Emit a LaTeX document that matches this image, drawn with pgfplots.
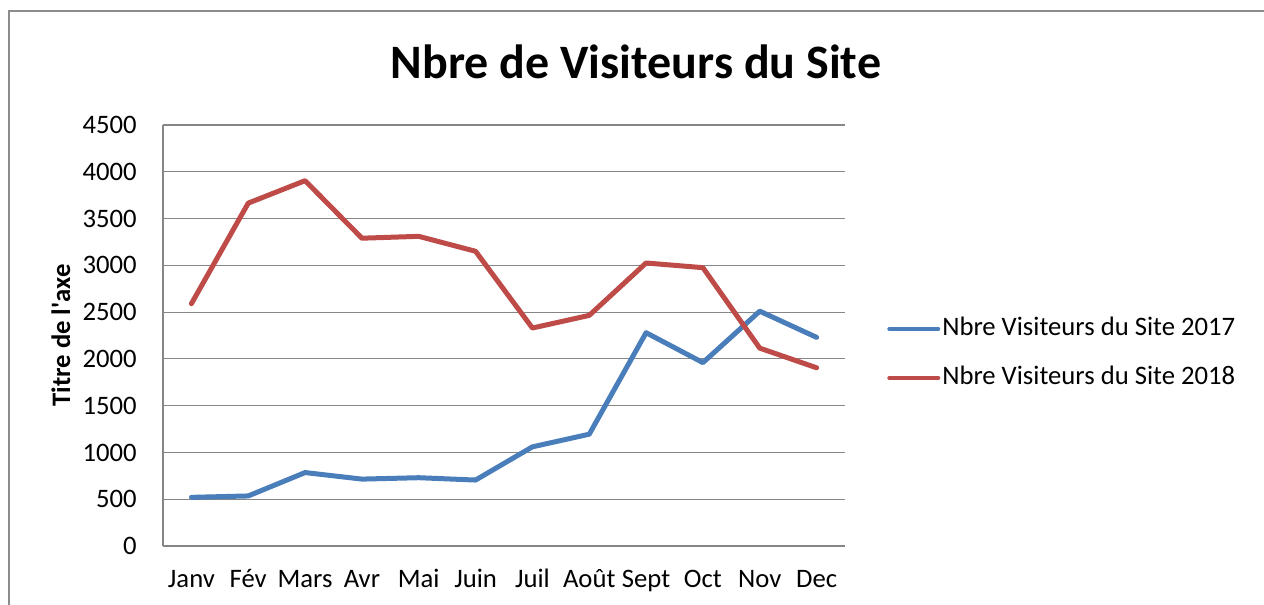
\documentclass[border=0pt]{standalone}
\usepackage{fontspec}
\setmainfont{Carlito}
\usepackage{pgfplots}
\pgfplotsset{compat=1.18}
\definecolor{blue17}{HTML}{4A7EBB}
\definecolor{red18}{HTML}{BE4B48}
\definecolor{gridgray}{HTML}{868686}
\definecolor{framegray}{HTML}{8C8C8C}
\begin{document}
\begin{tikzpicture}
\useasboundingbox (-122.25pt,-43.5pt) rectangle (825.75pt,409.5pt);
\fill[white] (-122.25pt,-43.5pt) rectangle (825.75pt,409.5pt);
\draw[framegray, line width=1.5pt] (-115.5pt,-50pt) -- (-115.5pt,401.25pt) -- (830pt,401.25pt);
\begin{axis}[
  at={(0,0)}, anchor=south west,
  scale only axis,
  width=511.5pt, height=315.75pt,
  xmin=-0.5, xmax=11.5,
  ymin=0, ymax=4500,
  xtick={0,...,11},
  xticklabels={Janv,Fév,Mars,Avr,Mai,Juin,Juil,Août,Sept,Oct,Nov,Dec},
  ytick={0,500,...,4500},
  axis x line*=bottom, axis y line*=left,
  axis line style={gridgray, line width=0.9pt, -},
  ymajorgrids, grid style={gridgray, line width=0.9pt},
  major tick length=0pt,
  /pgf/number format/assume math mode=true,
  /pgf/number format/1000 sep={},
  tick label style={font=\fontsize{20}{24}\selectfont, text=black},
  xticklabel style={anchor=north, inner sep=0pt, yshift=-17pt, text height=14pt, text depth=4pt},
  yticklabel style={anchor=east, inner sep=0pt, xshift=-19.5pt},
  ylabel={\textbf{Titre de l\textquotesingle axe}},
  every axis y label/.style={at={(axis description cs:-0.1496,0.5)}, rotate=90, anchor=center, font=\fontsize{20}{24}\selectfont},
  title={\textbf{Nbre de Visiteurs du Site}},
  every axis title/.style={at={(axis description cs:0.6935,1.1116)}, anchor=base, font=\fontsize{36}{43}\selectfont},
  legend style={at={(axis description cs:1.0616,0.4572)}, anchor=west, draw=none, fill=none, inner sep=0pt,
    font=\fontsize{20}{24}\selectfont,
    nodes={inner sep=0pt, anchor=west, text height=14pt, text depth=4pt},
    column sep=1.5pt, row sep=18.75pt},
  legend cell align=left,
  legend image code/.code={\draw[#1, line width=3pt, line cap=round] (1.5pt,0pt) -- (38.25pt,0pt);},
]
\addplot[blue17, line width=3.75pt, line join=round, line cap=round] coordinates {
(0,520) (1,535) (2,785) (3,715) (4,730) (5,705) (6,1060) (7,1195) (8,2280) (9,1960) (10,2510) (11,2230)};
\addlegendentry{Nbre Visiteurs du Site 2017}
\addplot[red18, line width=3.75pt, line join=round, line cap=round] coordinates {
(0,2590) (1,3665) (2,3905) (3,3290) (4,3310) (5,3150) (6,2330) (7,2465) (8,3025) (9,2975) (10,2115) (11,1905)};
\addlegendentry{Nbre Visiteurs du Site 2018}
\end{axis}
\end{tikzpicture}
\end{document}
